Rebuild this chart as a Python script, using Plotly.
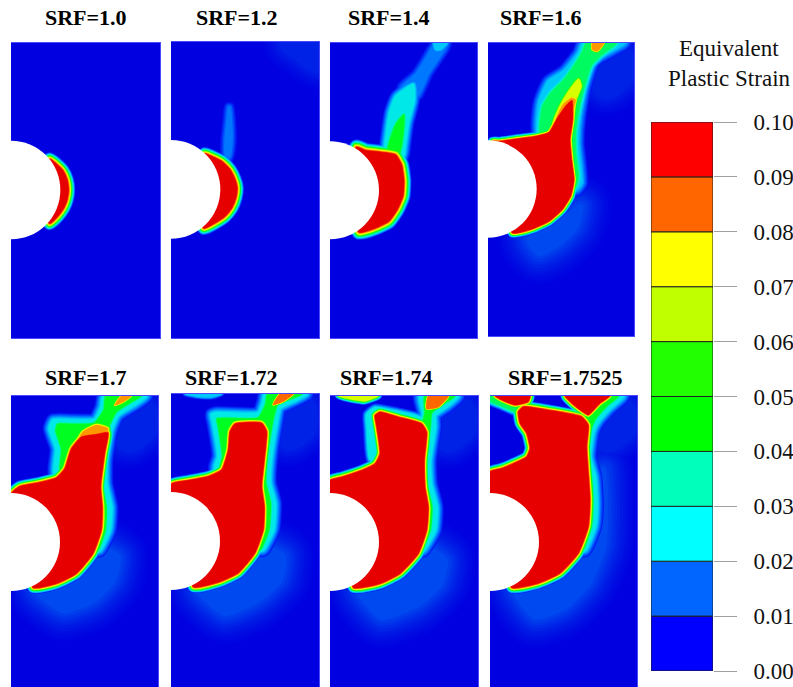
import plotly.graph_objects as go

W, H = 793, 687
# ------------------------------------------------------------------ labels
panel_titles = ["SRF=1.0", "SRF=1.2", "SRF=1.4", "SRF=1.6", "SRF=1.7", "SRF=1.72", "SRF=1.74", "SRF=1.7525"]
title_cx = [86, 237, 389, 541, 86, 232, 386, 565]
title_cy = [17, 17, 17, 17, 377, 377, 377, 377]
# panel frames in reference pixels: left, right, top, bottom
frame_l = [11, 171, 330, 488, 11, 171, 330, 490]
frame_r = [160, 319, 477, 634, 158, 319, 478, 637]
frame_t = [43, 42, 43, 43, 396, 394, 396, 396]
frame_b = [338, 338, 338, 336, 687, 687, 687, 687]
# tunnel centre depth and radius (model units: 3 units = 1 px, origin at panel top-left)
hole_y = [441, 442, 442, 438, 438, 441, 438, 438]
hole_r = [148, 148, 147, 146, 147, 147, 147, 147]

bar_levels = [0.00, 0.01, 0.02, 0.03, 0.04, 0.05, 0.06, 0.07, 0.08, 0.09]
bar_colors = ["#0000ff", "#0066ff", "#00ffff", "#00ffbb", "#00ff00", "#22ff00", "#bfff00", "#ffff00", "#ff6600", "#ff0000"]
bar_ticks = [0.00, 0.01, 0.02, 0.03, 0.04, 0.05, 0.06, 0.07, 0.08, 0.09, 0.10]

# ------------------------------------------------------------------ plastic zones
p1_core_x = [116, 136, 156, 169, 173, 169, 159, 141, 116, 66]
p1_core_y = [348, 362, 382, 410, 440, 470, 495, 520, 542, 440]

p2_core_x = [101, 123, 153, 178, 193, 199, 195, 183, 163, 133, 98, 63]
p2_core_y = [335, 343, 358, 383, 413, 438, 468, 498, 523, 543, 559, 443]
p2_plume_x = [163, 162, 168, 172, 177, 182, 183, 175]
p2_plume_y = [343, 293, 233, 195, 195, 243, 303, 348]
p2_glow_x = [370, 445, 445, 420, 395]
p2_glow_y = [0, 0, 50, 35, 15]

p3_core_x = [79, 107, 157, 197, 215, 222, 219, 202, 177, 137, 87, 57]
p3_core_y = [312, 322, 328, 335, 365, 415, 460, 500, 535, 555, 568, 440]
p3_top_x = [215, 258, 290, 315, 350, 325, 295, 265, 250]
p3_top_y = [135, 95, 45, 5, 5, 45, 90, 155, 165]
p3_tip_x = [312, 352, 332, 317]
p3_tip_y = [0, 0, 20, 20]
p3_mid_x = [165, 170, 180, 198, 250, 252, 235, 225, 220, 187]
p3_mid_y = [325, 270, 205, 160, 125, 172, 240, 310, 340, 330]
p3_low_x = [172, 182, 200, 222, 220, 212, 205]
p3_low_y = [330, 285, 240, 215, 265, 320, 340]

p4_core_x = [33, 83, 143, 183, 208, 232, 252, 254, 246, 252, 258, 248, 223, 183, 133, 73, 43, 13]
p4_core_y = [295, 288, 280, 268, 225, 190, 172, 230, 290, 360, 410, 460, 500, 535, 558, 570, 440, 295]
p4_teal_x = [150, 155, 182, 228, 272, 285, 410, 358, 318, 292, 275, 270, 280, 265, 240]
p4_teal_y = [272, 175, 115, 85, 30, 0, 0, 30, 55, 130, 220, 300, 420, 440, 300]
p4_green_x = [158, 165, 190, 225, 255, 285, 295, 385, 340, 310, 288, 272, 262, 262, 270, 262, 243, 243, 213]
p4_green_y = [272, 190, 150, 115, 75, 25, 0, 0, 35, 65, 130, 200, 260, 330, 400, 430, 430, 270, 270]
p4_yellow_x = [195, 215, 245, 272, 280, 262, 255]
p4_yellow_y = [245, 190, 140, 108, 130, 175, 230]
p4_amber_x = [205, 225, 250, 262, 255, 240]
p4_amber_y = [230, 185, 165, 170, 200, 225]
p4_orange_x = [313, 348, 328, 313]
p4_orange_y = [0, 0, 25, 20]
p4_glow_x = [123, 183, 253, 278, 263, 213, 153]
p4_glow_y = [590, 560, 510, 490, 550, 600, 630]

p5_core_x = [26, 76, 136, 161, 181, 211, 256, 291, 281, 269, 274, 271, 246, 196, 136, 66, 56, 1]
p5_core_y = [271, 261, 245, 218, 158, 123, 115, 110, 173, 273, 333, 403, 473, 533, 563, 575, 453, 293]
p5_teal_x = [131, 136, 116, 126, 181, 251, 271, 278, 406, 376, 321, 301, 286, 286, 301, 296, 266, 246, 246, 186]
p5_teal_y = [233, 158, 98, 73, 73, 71, 33, 0, 0, 23, 58, 103, 193, 263, 333, 403, 463, 463, 293, 243]
p5_green_x = [148, 152, 135, 140, 185, 250, 280, 285, 390, 365, 315, 290, 272, 272, 285, 282, 260, 246, 246, 186]
p5_green_y = [233, 158, 105, 85, 85, 82, 40, 0, 0, 15, 48, 100, 193, 263, 333, 403, 463, 463, 293, 243]
p5_amber_x = [196, 216, 256, 290, 285, 240]
p5_amber_y = [145, 108, 88, 98, 120, 130]
p5_orange_x = [311, 331, 361, 336]
p5_orange_y = [28, 0, 0, 18]
p5_glow_x = [76, 146, 226, 286, 321, 306, 246, 156]
p5_glow_y = [583, 563, 513, 463, 483, 553, 613, 643]

p6_core_x = [2, 52, 112, 152, 172, 177, 192, 272, 287, 280, 272, 280, 277, 252, 202, 142, 67, 52, 0]
p6_core_y = [269, 259, 247, 227, 167, 112, 89, 87, 112, 197, 277, 337, 407, 477, 537, 565, 579, 457, 297]
p6_teal_x = [132, 142, 127, 122, 137, 262, 277, 282, 407, 377, 327, 317, 300, 297, 312, 307, 277, 257, 257, 192]
p6_teal_y = [222, 187, 87, 62, 57, 57, 22, 0, 0, 17, 42, 87, 197, 267, 327, 407, 467, 467, 297, 237]
p6_green_x = [148, 155, 142, 138, 262, 285, 290, 392, 365, 320, 305, 287, 284, 298, 293, 268, 257, 257, 192]
p6_green_y = [222, 187, 95, 75, 72, 30, 0, 0, 12, 30, 80, 197, 267, 327, 407, 467, 467, 297, 237]
p6_orange_x = [307, 327, 367, 337]
p6_orange_y = [32, 0, 0, 22]
p6_arc_x = [42, 82, 122, 152]
p6_arc_y = [0, 8, 9, 0]
p6_glow_x = [82, 152, 232, 297, 337, 327, 262, 162]
p6_glow_y = [587, 567, 517, 467, 487, 557, 617, 657]

p7_core_x = [0, 35, 95, 135, 150, 140, 135, 150, 205, 275, 290, 283, 285, 295, 290, 265, 210, 150, 70, 55, 0]
p7_core_y = [253, 243, 223, 203, 173, 93, 58, 48, 63, 83, 108, 193, 273, 333, 403, 473, 533, 563, 575, 453, 293]
p7_teal_x = [270, 385, 355, 315, 315, 300, 303, 320, 315, 280, 265, 265, 275, 280]
p7_teal_y = [0, 0, 28, 58, 93, 193, 263, 333, 403, 463, 463, 293, 93, 53]
p7_left_x = [120, 112, 110, 135, 210, 260, 280, 280, 150]
p7_left_y = [190, 100, 55, 35, 48, 60, 70, 110, 190]
p7_green_x = [285, 375, 345, 305, 300, 288, 290, 305, 300, 272, 265, 265, 275, 285]
p7_green_y = [0, 0, 20, 50, 93, 193, 263, 333, 403, 463, 463, 293, 93, 53]
p7_arc_x = [25, 65, 105, 145]
p7_arc_y = [0, 10, 15, 0]
p7_orange_x = [290, 295, 355, 325]
p7_orange_y = [38, 0, 0, 33]
p7_glow_x = [85, 155, 235, 300, 345, 330, 265, 155]
p7_glow_y = [583, 563, 513, 463, 493, 563, 623, 663]

p8_core_x = [0, 35, 110, 120, 110, 90, 85, 100, 175, 275, 295, 290, 295, 300, 295, 265, 210, 145, 65, 45, 0]
p8_core_y = [227, 217, 182, 157, 112, 82, 47, 32, 42, 62, 87, 152, 232, 312, 392, 472, 532, 562, 575, 452, 292]
p8_left_x = [15, 120, 115, 75, 35]
p8_left_y = [0, 0, 17, 27, 12]
p8_band_x = [0, 35, 85, 85, 40, 0]
p8_band_y = [15, 30, 50, 30, 15, 0]
p8_right_x = [225, 360, 330, 295, 270, 245]
p8_right_y = [0, 0, 22, 57, 42, 22]
p8_teal_x = [305, 400, 360, 325, 310, 300, 315, 320, 315, 285, 265, 275, 275]
p8_teal_y = [0, 0, 37, 77, 107, 182, 242, 322, 392, 462, 462, 292, 92]
p8_green_x = [315, 385, 350, 315, 300, 288, 303, 308, 303, 278, 265, 275, 280]
p8_green_y = [0, 0, 30, 70, 107, 182, 242, 322, 392, 462, 462, 292, 92]
p8_glow_x = [75, 145, 235, 305, 315, 340, 345, 340, 295, 225, 135]
p8_glow_y = [582, 572, 512, 432, 300, 222, 342, 452, 562, 632, 662]

# faint patch in the upper right of the later stages
ne_glow_x = [350, 395, 395, 355]
ne_glow_y = [65, 50, 95, 125]

# panel index, peak strain, halo half-width in px, x, y
zones = [
    (0, 0.10, 7, p1_core_x, p1_core_y),
    (1, 0.018, 6, p2_plume_x, p2_plume_y),
    (1, 0.10, 7, p2_core_x, p2_core_y),
    (2, 0.02, 7, p3_top_x, p3_top_y),
    (2, 0.03, 4, p3_tip_x, p3_tip_y),
    (2, 0.034, 7, p3_mid_x, p3_mid_y),
    (2, 0.052, 6, p3_low_x, p3_low_y),
    (2, 0.10, 8, p3_core_x, p3_core_y),
    (3, 0.03, 8, p4_teal_x, p4_teal_y),
    (3, 0.05, 7, p4_green_x, p4_green_y),
    (3, 0.075, 5, p4_yellow_x, p4_yellow_y),
    (3, 0.09, 5, p4_amber_x, p4_amber_y),
    (3, 0.09, 3, p4_orange_x, p4_orange_y),
    (3, 0.10, 5, p4_core_x, p4_core_y),
    (4, 0.035, 8, p5_teal_x, p5_teal_y),
    (4, 0.055, 5, p5_green_x, p5_green_y),
    (4, 0.09, 6, p5_amber_x, p5_amber_y),
    (4, 0.09, 3, p5_orange_x, p5_orange_y),
    (4, 0.10, 6, p5_core_x, p5_core_y),
    (5, 0.03, 3, p6_arc_x, p6_arc_y),
    (5, 0.035, 8, p6_teal_x, p6_teal_y),
    (5, 0.055, 5, p6_green_x, p6_green_y),
    (5, 0.095, 3, p6_orange_x, p6_orange_y),
    (5, 0.10, 6, p6_core_x, p6_core_y),
    (6, 0.075, 4, p7_arc_x, p7_arc_y),
    (6, 0.035, 8, p7_teal_x, p7_teal_y),
    (6, 0.035, 5, p7_left_x, p7_left_y),
    (6, 0.055, 5, p7_green_x, p7_green_y),
    (6, 0.095, 3, p7_orange_x, p7_orange_y),
    (6, 0.10, 6, p7_core_x, p7_core_y),
    (7, 0.035, 8, p8_teal_x, p8_teal_y),
    (7, 0.055, 5, p8_green_x, p8_green_y),
    (7, 0.05, 5, p8_band_x, p8_band_y),
    (7, 0.10, 5, p8_left_x, p8_left_y),
    (7, 0.10, 5, p8_right_x, p8_right_y),
    (7, 0.10, 6, p8_core_x, p8_core_y),
]
# panel index, how many glow steps it climbs, x, y
glows = [
    (1, 6, p2_glow_x, p2_glow_y),
    (3, 6, ne_glow_x, ne_glow_y),
    (4, 6, ne_glow_x, ne_glow_y),
    (5, 6, ne_glow_x, ne_glow_y),
    (6, 6, ne_glow_x, ne_glow_y),
    (7, 6, ne_glow_x, ne_glow_y),
    (3, 10, p4_glow_x, p4_glow_y),
    (4, 10, p5_glow_x, p5_glow_y),
    (5, 10, p6_glow_x, p6_glow_y),
    (6, 10, p7_glow_x, p7_glow_y),
    (7, 10, p8_glow_x, p8_glow_y),
]
glow_colors = ["#0004e1", "#0009e2", "#000ee3", "#0014e4", "#001ae5", "#0022e7", "#002ae9", "#0034eb", "#003eed", "#0048ef"]
glow_widths = [62, 55, 48, 42, 36, 30, 24, 18, 12, 6]

# contour levels of the field and the palette they take
stops = [0.004, 0.008, 0.012, 0.016, 0.02, 0.025, 0.03, 0.035, 0.04, 0.045, 0.05, 0.058, 0.065, 0.07, 0.075, 0.08, 0.085, 0.09, 0.095, 0.0985]
stop_colors = ["#0018f0", "#0038f8", "#0058ff", "#0078ff", "#00a0ff", "#00c8f8", "#00e8e8", "#00f0c8", "#00f8a0", "#00fb60",
               "#00ff20", "#50ff00", "#a0ff00", "#d8ff00", "#ffff00", "#ffc800", "#ff9800", "#ff6800", "#f83000", "#e60000"]

fig = go.Figure()
layout = {}
shapes = []
annotations = []

for i in range(8):
    sfx = "" if i == 0 else str(i + 1)
    w_u = (frame_r[i] - frame_l[i]) * 3
    h_u = (frame_b[i] - frame_t[i]) * 3
    common = dict(showgrid=False, zeroline=False, ticks="", showticklabels=False, automargin=False,
                  showline=True, linecolor="#4a4aff", linewidth=1)
    layout["xaxis" + sfx] = dict(domain=[frame_l[i] / W, frame_r[i] / W], range=[0, w_u], anchor="y" + sfx,
                                 mirror=True, **common)
    # the frame line sits on the right only: the left edge runs through the white tunnel
    layout["yaxis" + sfx] = dict(domain=[1 - frame_b[i] / H, 1 - frame_t[i] / H], range=[h_u, 0], anchor="x" + sfx,
                                 side="right", mirror=False, **common)
    shapes.append(dict(type="rect", xref="x" + sfx, yref="y" + sfx, x0=-30, x1=w_u + 30, y0=-30, y1=h_u + 30,
                       fillcolor="#0000e0", line_width=0, layer="below"))
    shapes.append(dict(type="circle", xref="x" + sfx, yref="y" + sfx, layer="above",
                       x0=-hole_r[i], x1=hole_r[i], y0=hole_y[i] - hole_r[i], y1=hole_y[i] + hole_r[i],
                       fillcolor="white", line_width=0))
    annotations.append(dict(xref="paper", yref="paper", x=title_cx[i] / W, y=1 - title_cy[i] / H,
                            text="<b>%s</b>" % panel_titles[i], showarrow=False, xanchor="center",
                            yanchor="middle", font=dict(family="Liberation Serif", size=22, color="black")))


def polygon(panel, xs, ys, colour, width):
    sfx = "" if panel == 0 else str(panel + 1)
    fig.add_trace(go.Scatter(x=list(xs) + [xs[0]], y=list(ys) + [ys[0]], mode="lines",
                             xaxis="x" + sfx, yaxis="y" + sfx, fill="toself", fillcolor=colour,
                             line=dict(color=colour, width=width, shape="spline", smoothing=0.5),
                             hoverinfo="skip", showlegend=False))


for step in range(10):
    for panel, steps, gx, gy in glows:
        if step < steps:
            polygon(panel, gx, gy, glow_colors[step], glow_widths[step])

# painted level by level, lowest first, so a higher band is never covered by a lower one
for s, c in zip(stops, stop_colors):
    for panel, level, halo, zx, zy in zones:
        if s < level:
            polygon(panel, zx, zy, c, max(0.1, 2 * halo * (level - s) / level))

# ------------------------------------------------------------------ colour key
fig.add_trace(go.Bar(x=[0] * len(bar_levels), y=[0.01] * len(bar_levels), base=bar_levels, width=1,
                     marker=dict(color=bar_colors, line=dict(color="#222222", width=1)),
                     xaxis="x9", yaxis="y9", hoverinfo="skip", showlegend=False))
layout["xaxis9"] = dict(domain=[651 / W, 713 / W], range=[-0.5, 0.5], anchor="y9",
                        showgrid=False, automargin=False, zeroline=False, ticks="", showticklabels=False, showline=False)
layout["yaxis9"] = dict(domain=[1 - 671 / H, 1 - 122 / H], range=[0, 0.1], anchor="x9",
                        side="right", automargin=False, showgrid=False, zeroline=False, showline=False,
                        ticks="outside", ticklen=23, tickwidth=1, tickcolor="#a0a0a0", tickvals=bar_ticks,
                        ticktext=["%.2f" % t for t in bar_ticks], ticklabelstandoff=12,
                        tickfont=dict(family="Liberation Serif", size=23, color="#111111"))
for text, y in (("Equivalent", 49), ("Plastic Strain", 78)):
    annotations.append(dict(xref="paper", yref="paper", x=729 / W, y=1 - y / H,
                            text=text, showarrow=False, xanchor="center", yanchor="middle",
                            font=dict(family="Liberation Serif", size=23, color="#111111")))

fig.update_layout(width=W, height=H, margin=dict(l=0, r=0, t=0, b=0, pad=0, autoexpand=False), paper_bgcolor="white",
                  plot_bgcolor="white", showlegend=False, barmode="overlay", shapes=shapes,
                  annotations=annotations, **layout)
# the page's default body margin would otherwise push the 793 x 687 figure out of the window
fig.write_html("out.html", config={"displayModeBar": False},
               post_script="document.body.style.margin='0';document.documentElement.style.overflow='hidden';")
